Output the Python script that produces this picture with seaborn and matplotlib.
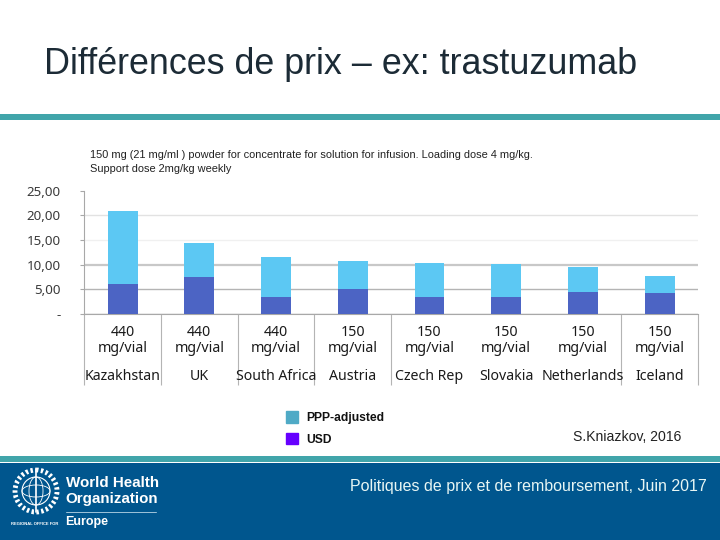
import matplotlib
matplotlib.use("Agg")
import matplotlib.pyplot as plt
from matplotlib.patches import Rectangle, Circle, Ellipse, Patch
from matplotlib.transforms import blended_transform_factory
import seaborn as sns
import pandas as pd

countries = ["Kazakhstan", "UK", "South Africa", "Austria", "Czech Rep", "Slovakia", "Netherlands", "Iceland"]
doses = ["440", "440", "440", "150", "150", "150", "150", "150"]
ppp_adjusted = [20.8, 14.4, 11.55, 10.75, 10.35, 10.15, 9.6, 7.8]
usd = [6.0, 7.5, 3.45, 5.05, 3.5, 3.5, 4.5, 4.2]
y_ticks = [0, 5, 10, 15, 20, 25]
y_labels = ["-", "5,00", "10,00", "15,00", "20,00", "25,00"]
grid_colors = ["#a8a8a8", "#b4b4b4", "#c8c8c8", "#f0f0f0", "#e2e2e2", "#ffffff"]
grid_widths = [1.0, 1.0, 1.6, 1.0, 1.0, 0.0]
separators = [-0.5, 0.5, 1.5, 2.5, 3.5, 6.5, 7.5]

COL_PPP = "#5CC8F3"
COL_USD = "#4C64C4"
BLUE = "#00568E"
TEAL = "#41A5AA"
W, H = 720, 540

sns.set_theme(style="white")
plt.rcParams["font.family"] = ["Liberation Sans", "DejaVu Sans"]
fig = plt.figure(figsize=(7.2, 5.4), dpi=100, facecolor="white")

# slide decoration, in pixel coordinates
bg = fig.add_axes([0, 0, 1, 1], zorder=0)
bg.set_xlim(0, W); bg.set_ylim(H, 0); bg.axis("off")
bg.add_patch(Rectangle((0, 113.5), W, 6, color=TEAL, lw=0))
bg.add_patch(Rectangle((0, 456), W, 6, color=TEAL, lw=0))
bg.add_patch(Rectangle((0, 463), W, 77, color=BLUE, lw=0))
bg.text(44, 64, "Différences de prix – ex: trastuzumab", fontsize=25.8, color="#1c2b36", va="center", ha="left")
bg.text(90, 155.5, "150 mg (21 mg/ml ) powder for concentrate for solution for infusion. Loading dose 4 mg/kg.",
        fontsize=7.95, color="#222222", va="center")
bg.text(90, 168.5, "Support dose 2mg/kg weekly", fontsize=7.95, color="#222222", va="center")
bg.text(573, 437, "S.Kniazkov, 2016", fontsize=10.1, color="#222222", va="center")
bg.text(350, 486.5, "Politiques de prix et de remboursement, Juin 2017", fontsize=11.5, color="#e8f6f4", va="center")

# WHO logo
for art in [Circle((36, 491), 14, fill=False, ec="white", lw=0.8),
            Ellipse((36, 491), 14, 28, fill=False, ec="white", lw=0.6),
            Ellipse((36, 491), 28, 12, fill=False, ec="white", lw=0.6),
            Circle((36, 491), 21, fill=False, ec="white", lw=3.5, ls=(0, (0.5, 0.5)))]:
    bg.add_patch(art)
bg.plot([36, 36], [469, 512], color="white", lw=1.2)
bg.text(65.5, 483, "World Health", fontsize=10.9, color="white", weight="bold", va="center")
bg.text(65.5, 499.5, "Organization", fontsize=10.9, color="white", weight="bold", va="center")
bg.plot([65.5, 156], [511.5, 511.5], color="#9fc4da", lw=0.7)
bg.text(65.5, 522, "Europe", fontsize=9, color="white", weight="bold", va="center")
bg.text(11, 524, "REGIONAL OFFICE FOR", fontsize=3.0, color="white", va="center", weight="bold")

# chart axes
ax = fig.add_axes([84.3 / W, 1 - 314 / H, (698 - 84.3) / W, (314 - 190.7) / H], zorder=2)
ax.patch.set_alpha(0)
df = pd.DataFrame({"country": countries, "ppp": ppp_adjusted, "usd": usd})
sns.barplot(data=df, x="country", y="ppp", color=COL_PPP, saturation=1, width=0.39, linewidth=0, ax=ax, zorder=3)
sns.barplot(data=df, x="country", y="usd", color=COL_USD, saturation=1, width=0.39, linewidth=0, ax=ax, zorder=4)
ax.set_xlim(-0.5, 7.5)
ax.set_ylim(0, 25)
ax.set_xlabel(""); ax.set_ylabel("")

ax.set_yticks(y_ticks, y_labels)
ax.tick_params(axis="y", length=3, width=0.8, color="#a8a8a8", pad=14, labelsize=9.6, labelcolor="#3a3a3a", left=True)
for lab in ax.get_yticklabels():
    lab.set_family("Noto Sans")
for val, c, lw in zip(y_ticks, grid_colors, grid_widths):
    if lw:
        ax.axhline(val, color=c, lw=lw, zorder=1)

for s in ["top", "right"]:
    ax.spines[s].set_visible(False)
ax.spines["left"].set_color("#a8a8a8")
ax.spines["bottom"].set_color("#a8a8a8")
ax.spines["left"].set_linewidth(0.8)
ax.spines["bottom"].set_linewidth(0.8)

ax.set_xticks(range(len(countries)), [f"{d}\nmg/vial" for d in doses])
ax.set_xticks(separators, minor=True)
ax.tick_params(axis="x", which="major", length=0, pad=8, labelsize=10.2, labelcolor="#1a1a1a")
ax.tick_params(axis="x", which="minor", length=51, width=0.8, color="#b4b4b4", bottom=True)
for lab in ax.get_xticklabels():
    lab.set_family("Noto Sans"); lab.set_linespacing(1.1)

tr = blended_transform_factory(ax.transData, fig.transFigure)
for i, c in enumerate(countries):
    ax.text(i, 1 - 380.5 / H, c, transform=tr, ha="center", va="baseline", fontsize=10.2,
            color="#1a1a1a", family="Noto Sans", clip_on=False)

handles = [Patch(color="#4FAAC6", label="PPP-adjusted"), Patch(color="#6600FF", label="USD")]
leg = fig.legend(handles=handles, loc="upper left", bbox_to_anchor=(282 / W, 1 - 407.5 / H), frameon=False,
                 fontsize=8.7, handlelength=1.05, handleheight=1.1, handletextpad=0.68, labelspacing=0.72,
                 borderpad=0.3, borderaxespad=0)
for t in leg.get_texts():
    t.set_weight("bold"); t.set_color("#111111")

fig.savefig("out.png", dpi=100)
